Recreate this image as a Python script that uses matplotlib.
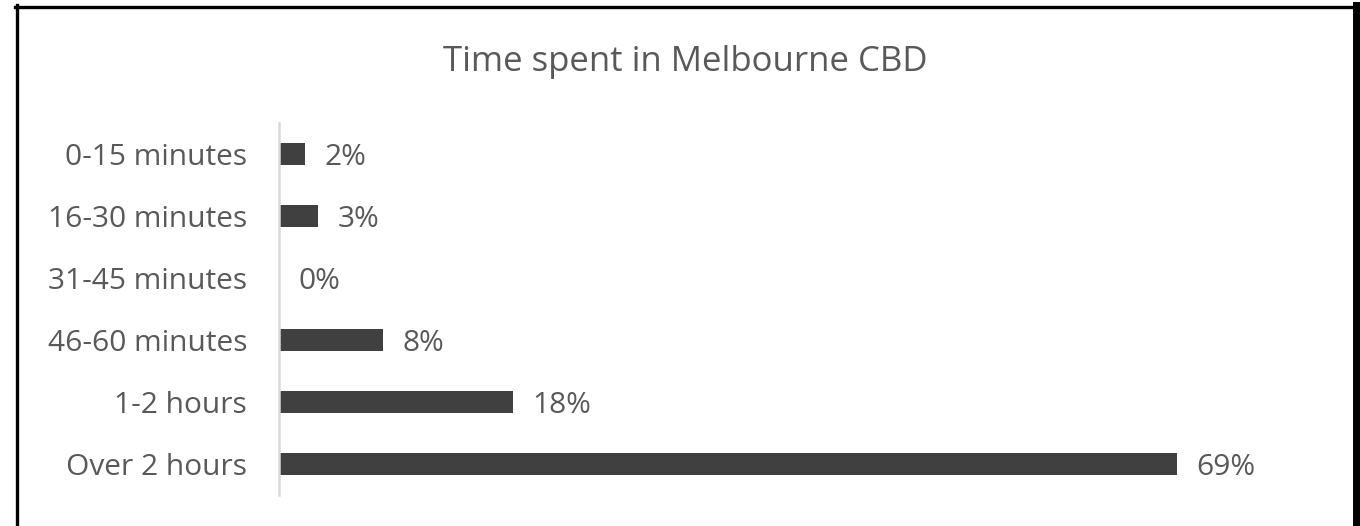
import matplotlib.pyplot as plt
from matplotlib.lines import Line2D

plt.rcParams['font.family'] = ['Open Sans', 'DejaVu Sans']

categories = ['0-15 minutes', '16-30 minutes', '31-45 minutes',
              '46-60 minutes', '1-2 hours', 'Over 2 hours']
shares = [2, 3, 0, 8, 18, 69]
labels = ['2%', '3%', '0%', '8%', '18%', '69%']

text_col = '#595959'
bar_col = '#404040'

fig = plt.figure(figsize=(13.6, 5.26), dpi=100)
W, H = 1360, 526

# plot area: x from 279px, 0..80 %, rows between y=123px and y=495px
ax = fig.add_axes([279 / W, 1 - 495 / H, 80 * 13.01 / W, (495 - 123) / H])

ypos = list(range(len(categories)))[::-1]
ax.barh(ypos, shares, height=0.34, color=bar_col)
for y, v, lab in zip(ypos, shares, labels):
    ax.text(v + 1.5, y, lab, va='center_baseline', ha='left', fontsize=21.5, color=text_col)

ax.set_xlim(0, 80)
ax.set_ylim(-0.5, 5.5)
ax.set_yticks(ypos)
ax.set_yticklabels(categories, fontsize=21.5, color=text_col, va='center_baseline')
ax.tick_params(axis='y', length=0, pad=23)
ax.set_xticks([])
for s in ['top', 'right', 'bottom']:
    ax.spines[s].set_visible(False)
ax.spines['left'].set_color('#d9d9d9')
ax.spines['left'].set_linewidth(1.8)

fig.text(685 / W, 1 - 58 / H, 'Time spent in Melbourne CBD', ha='center', va='center_baseline',
         fontsize=25, color=text_col)

# black frame (no bottom edge)
fig.add_artist(Line2D([16.5 / W, 16.5 / W], [0, 1 - 5 / H], color='black', lw=2.4,
                      transform=fig.transFigure))
fig.add_artist(Line2D([15 / W, 1360 / W], [1 - 7 / H, 1 - 7 / H], color='black', lw=2.4,
                      transform=fig.transFigure))
fig.add_artist(Line2D([1356 / W, 1356 / W], [0, 1 - 5 / H], color='black', lw=5,
                      transform=fig.transFigure))

fig.savefig('out.png', dpi=100)
